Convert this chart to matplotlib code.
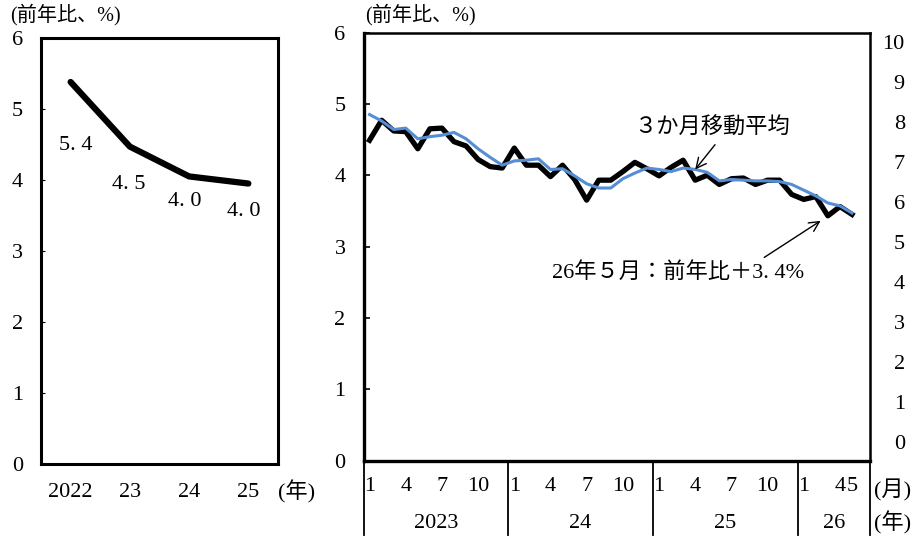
import matplotlib
matplotlib.use("Agg")
import matplotlib.pyplot as plt
from matplotlib import transforms

plt.rcParams['font.family'] = ['Liberation Serif', 'Noto Sans CJK JP']
plt.rcParams['font.size'] = 16

# annual data (left panel)
years = ["2022", "23", "24", "25"]
annual = [5.38, 4.47, 4.05, 3.95]
annual_labels = ["5. 4", "4. 5", "4. 0", "4. 0"]

# monthly data Jan 2023 - May 2026 (right panel)
monthly = [4.49, 4.77, 4.62, 4.61, 4.37, 4.65, 4.66, 4.47, 4.41, 4.22, 4.12, 4.10,
           4.38, 4.14, 4.14, 3.98, 4.14, 3.94, 3.65, 3.93, 3.93, 4.05, 4.18, 4.09,
           3.99, 4.11, 4.21, 3.93, 4.00, 3.87, 3.95, 3.96, 3.87, 3.93, 3.93, 3.73,
           3.66, 3.70, 3.43, 3.56, 3.45]
ma3 = [4.85, 4.76, 4.64, 4.66, 4.51, 4.54, 4.56, 4.60, 4.51, 4.37, 4.25, 4.14,
       4.20, 4.21, 4.23, 4.08, 4.09, 3.99, 3.88, 3.82, 3.82, 3.95, 4.03, 4.10,
       4.08, 4.05, 4.10, 4.08, 4.04, 3.92, 3.94, 3.93, 3.92, 3.92, 3.91, 3.87,
       3.79, 3.71, 3.61, 3.57, 3.47]
month_ticks = [0, 3, 6, 9, 12, 15, 18, 21, 24, 27, 30, 33, 36, 39, 40]
month_labels = ["1", "4", "7", "10", "1", "4", "7", "10",
                "1", "4", "7", "10", "1", "4", "5"]
year_names = ["2023", "24", "25", "26"]
year_start = [0, 12, 24, 36]
year_len = [12, 12, 12, 6]

blue = '#558ED5'
fig = plt.figure(figsize=(9.15, 5.4), dpi=100)

# ---- left panel: annual
ax1 = fig.add_axes([0.0448, 0.1407, 0.259, 0.789])
ax1.plot(range(len(annual)), annual, color='black', lw=4.5, solid_capstyle='round')
offsets = [(4, -46), (-1, -27), (-3, -18), (-3, -20)]
for i, (v, lab) in enumerate(zip(annual, annual_labels)):
    ax1.annotate(lab, (i, v), xytext=offsets[i], textcoords='offset points',
                 ha='center', va='center', fontsize=16)
ax1.set_xlim(-0.5, 3.5)
ax1.set_ylim(0, 6)
ax1.set_xticks(range(len(years)))
ax1.set_xticklabels(years)
ax1.set_yticks(range(7))
ax1.tick_params(axis='x', length=0, pad=14)
ax1.tick_params(axis='y', direction='in', length=3, pad=13)
for s in ax1.spines.values():
    s.set_linewidth(2.2)
fig.text(297 / 915, 1 - 492 / 540, "(年)", ha='center', va='center', fontsize=16)
fig.text(10 / 915, 1 - 15 / 540, "(前年比、%)", ha='left', va='center', fontsize=14.5)

# ---- right panel: monthly
ax = fig.add_axes([0.3973, 0.1472, 0.5536, 0.7926])
x = range(len(monthly))
ax.plot(x, monthly, color='black', lw=3.8)
ax.plot(x, ma3, color=blue, lw=2.2)
ax.set_xlim(-0.5, 41.5)
ax.set_ylim(0, 6)
ax.set_yticks(range(7))
ax.set_xticks(month_ticks)
ax.set_xticklabels(month_labels)
ax.tick_params(axis='x', length=0, pad=12)
ax.tick_params(axis='y', direction='in', length=4, width=1.2, pad=13)
ax.spines['left'].set_linewidth(2.4)
ax.spines['bottom'].set_linewidth(2.4)
ax.spines['top'].set_linewidth(1.8)
ax.spines['right'].set_linewidth(1.8)

# year separators and year labels
trans = transforms.blended_transform_factory(ax.transData, ax.transAxes)
bounds = [s - 0.5 for s in year_start] + [year_start[-1] + year_len[-1] - 0.5]
for b in bounds:
    ax.plot([b, b], [0, -0.175], color='black', lw=1.3, transform=trans, clip_on=False)
for name, s, n in zip(year_names, year_start, year_len):
    ax.text(s - 0.5 + n / 2, -0.146, name, transform=trans, ha='center', va='center',
            fontsize=16)
fig.text(893 / 915, 1 - 490 / 540, "(月)", ha='center', va='center', fontsize=16)
fig.text(893 / 915, 1 - 523 / 540, "(年)", ha='center', va='center', fontsize=16)
fig.text(365 / 915, 1 - 15 / 540, "(前年比、%)", ha='left', va='center', fontsize=14.5)

# right-side scale
ax2 = ax.twinx()
ax2.set_ylim(-0.4625, 10.2375)
ax2.set_yticks(range(11))
ax2.tick_params(axis='y', length=0, pad=25)
for lbl in ax2.get_yticklabels():
    lbl.set_horizontalalignment('right')
for s in ax2.spines.values():
    s.set_visible(False)

# annotations
ax.annotate("３か月移動平均", xy=(27, 4.08), xytext=(28.4, 4.66), ha='center', va='center',
            fontsize=16,
            arrowprops=dict(arrowstyle='->', color='black', lw=1.0, relpos=(0.55, 0),
                            shrinkA=3, shrinkB=0, mutation_scale=18))
ax.annotate("26年５月：前年比＋3. 4%", xy=(37.4, 3.36), xytext=(25.6, 2.63),
            ha='center', va='center', fontsize=16,
            arrowprops=dict(arrowstyle='->', color='black', lw=1.0, relpos=(0.81, 1),
                            shrinkA=3, shrinkB=0, mutation_scale=18))

fig.savefig("out.png", dpi=100)
